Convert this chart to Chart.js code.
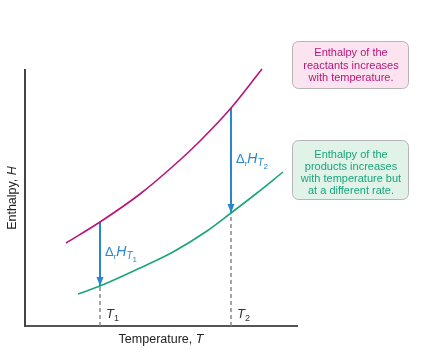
<!DOCTYPE html>
<html>
<head>
<meta charset="utf-8">
<script src="https://cdn.jsdelivr.net/npm/chart.js@4.4.0/dist/chart.umd.min.js"></script>
<style>
  body { margin: 0; background: #fff; }
  #wrap { width: 426px; height: 360px; }
</style>
</head>
<body>
<div id="wrap"><canvas id="enthalpy" width="426" height="360"></canvas></div>
<script>
// curves (T and H in arbitrary units)
const reactT = [41, 75, 115, 155, 175, 206, 237];
const reactH = [83, 104, 132, 166, 185, 218, 257];
const prodT = [53, 75, 115, 148, 182, 206, 232, 258];
const prodH = [32, 40, 58, 74, 95, 113, 133, 154];

// the two temperatures and the enthalpies there
const markT = [75, 206];
const markTop = [104, 218];
const markBot = [40, 113];
const markNames = ['1', '2'];

const reactNote = ['Enthalpy of the', 'reactants increases', 'with temperature.'];
const prodNote = ['Enthalpy of the', 'products increases', 'with temperature but', 'at a different rate.'];

const magenta = '#b8147a';
const green = '#1aa57c';
const blue = '#2a86cc';
const FONT = '"Liberation Sans", Arial, sans-serif';

function pts(xs, ys) {
    return xs.map((x, i) => ({ x: x, y: ys[i] }));
}

const datasets = [
    {
        label: 'reactants',
        data: pts(reactT, reactH),
        borderColor: magenta,
        borderWidth: 1.6,
        cubicInterpolationMode: 'monotone',
        pointRadius: 0,
        clip: false,
        order: 1
    },
    {
        label: 'products',
        data: pts(prodT, prodH),
        borderColor: green,
        borderWidth: 1.6,
        cubicInterpolationMode: 'monotone',
        pointRadius: 0,
        clip: false,
        order: 1
    }
];

for (let i = 0; i < markT.length; i++) {
    datasets.push({
        label: 'dash' + i,
        data: [{ x: markT[i], y: 0 }, { x: markT[i], y: markBot[i] }],
        borderColor: '#888',
        borderWidth: 1.5,
        borderDash: [4, 3],
        pointRadius: 0,
        order: 3
    });
    datasets.push({
        label: 'arrow' + i,
        data: [{ x: markT[i], y: markTop[i] }, { x: markT[i], y: markBot[i] }],
        borderColor: blue,
        borderWidth: 2,
        pointRadius: 0,
        order: 2
    });
}

// draw a row of text pieces, each with its own font and baseline shift
function drawRuns(ctx, x, y, runs, color) {
    ctx.fillStyle = color;
    ctx.textAlign = 'left';
    ctx.textBaseline = 'alphabetic';
    let cx = x;
    runs.forEach(r => {
        ctx.font = r.font;
        ctx.fillText(r.t, cx, y + (r.dy || 0));
        cx += ctx.measureText(r.t).width + (r.gap || 0);
    });
}

function roundBox(ctx, x, y, w, h, r, fill, stroke) {
    ctx.beginPath();
    ctx.moveTo(x + r, y);
    ctx.arcTo(x + w, y, x + w, y + h, r);
    ctx.arcTo(x + w, y + h, x, y + h, r);
    ctx.arcTo(x, y + h, x, y, r);
    ctx.arcTo(x, y, x + w, y, r);
    ctx.closePath();
    ctx.fillStyle = fill;
    ctx.fill();
    ctx.strokeStyle = stroke;
    ctx.lineWidth = 1;
    ctx.stroke();
}

const annotations = {
    id: 'annotations',
    afterDatasetsDraw(chart) {
        const ctx = chart.ctx;
        const xs = chart.scales.x, ys = chart.scales.y;
        ctx.save();

        // arrow heads
        ctx.fillStyle = blue;
        markT.forEach((t, i) => {
            const px = xs.getPixelForValue(t);
            const py = ys.getPixelForValue(markBot[i]);
            ctx.beginPath();
            ctx.moveTo(px, py);
            ctx.lineTo(px - 3.5, py - 9);
            ctx.lineTo(px + 3.5, py - 9);
            ctx.closePath();
            ctx.fill();
        });

        // delta labels and T labels
        markT.forEach((t, i) => {
            const px = xs.getPixelForValue(t);
            const mid = ys.getPixelForValue((markTop[i] + markBot[i]) / 2);
            drawRuns(ctx, px + 5, mid + 2, [
                { t: '\u0394', font: '13px ' + FONT },
                { t: 'r', font: '8px ' + FONT, dy: 3 },
                { t: 'H', font: 'italic 14px ' + FONT },
                { t: 'T', font: 'italic 10px ' + FONT, dy: 3 },
                { t: markNames[i], font: '8px ' + FONT, dy: 6 }
            ], blue);
            drawRuns(ctx, px + 6, chart.chartArea.bottom - 8, [
                { t: 'T', font: 'italic 13px ' + FONT },
                { t: markNames[i], font: '9px ' + FONT, dy: 3 }
            ], '#333');
        });

        // axis titles
        ctx.fillStyle = '#222';
        ctx.font = '12.5px ' + FONT;
        ctx.textBaseline = 'middle';
        const xt1 = 'Temperature, ';
        const w1 = ctx.measureText(xt1).width;
        ctx.font = 'italic 12.5px ' + FONT;
        const w2 = ctx.measureText('T').width;
        const cx = (chart.chartArea.left + chart.chartArea.right) / 2;
        ctx.textAlign = 'left';
        ctx.font = '12.5px ' + FONT;
        ctx.fillText(xt1, cx - (w1 + w2) / 2, 340);
        ctx.font = 'italic 12.5px ' + FONT;
        ctx.fillText('T', cx - (w1 + w2) / 2 + w1, 340);

        ctx.save();
        ctx.translate(13, (chart.chartArea.top + chart.chartArea.bottom) / 2);
        ctx.rotate(-Math.PI / 2);
        ctx.font = '12.5px ' + FONT;
        const yt1 = 'Enthalpy, ';
        const v1 = ctx.measureText(yt1).width;
        ctx.font = 'italic 12.5px ' + FONT;
        const v2 = ctx.measureText('H').width;
        ctx.font = '12.5px ' + FONT;
        ctx.fillText(yt1, -(v1 + v2) / 2, 0);
        ctx.font = 'italic 12.5px ' + FONT;
        ctx.fillText('H', -(v1 + v2) / 2 + v1, 0);
        ctx.restore();

        // note boxes
        roundBox(ctx, 292.5, 41.5, 116, 47, 6, '#fbe4ef', '#b5b5b5');
        roundBox(ctx, 292.5, 140.5, 116, 59, 6, '#e1f2e9', '#b5b5b5');
        ctx.font = '11px ' + FONT;
        ctx.textAlign = 'center';
        ctx.textBaseline = 'middle';
        ctx.fillStyle = magenta;
        reactNote.forEach((s, i) => ctx.fillText(s, 351, 53 + i * 12.5));
        ctx.fillStyle = green;
        prodNote.forEach((s, i) => ctx.fillText(s, 351, 155 + i * 12));

        ctx.restore();
    }
};

new Chart(document.getElementById('enthalpy'), {
    type: 'scatter',
    data: { datasets: datasets },
    options: {
        responsive: false,
        animation: false,
        showLine: true,
        layout: { padding: { left: 17, right: 129, top: 70, bottom: 26 } },
        plugins: { legend: { display: false }, tooltip: { enabled: false } },
        scales: {
            x: {
                min: 0, max: 272,
                grid: { display: false },
                ticks: { display: false },
                border: { display: true, color: '#555', width: 2 }
            },
            y: {
                min: 0, max: 256,
                grid: { display: false },
                ticks: { display: false },
                border: { display: true, color: '#444', width: 2 }
            }
        }
    },
    plugins: [annotations]
});
</script>
</body>
</html>
